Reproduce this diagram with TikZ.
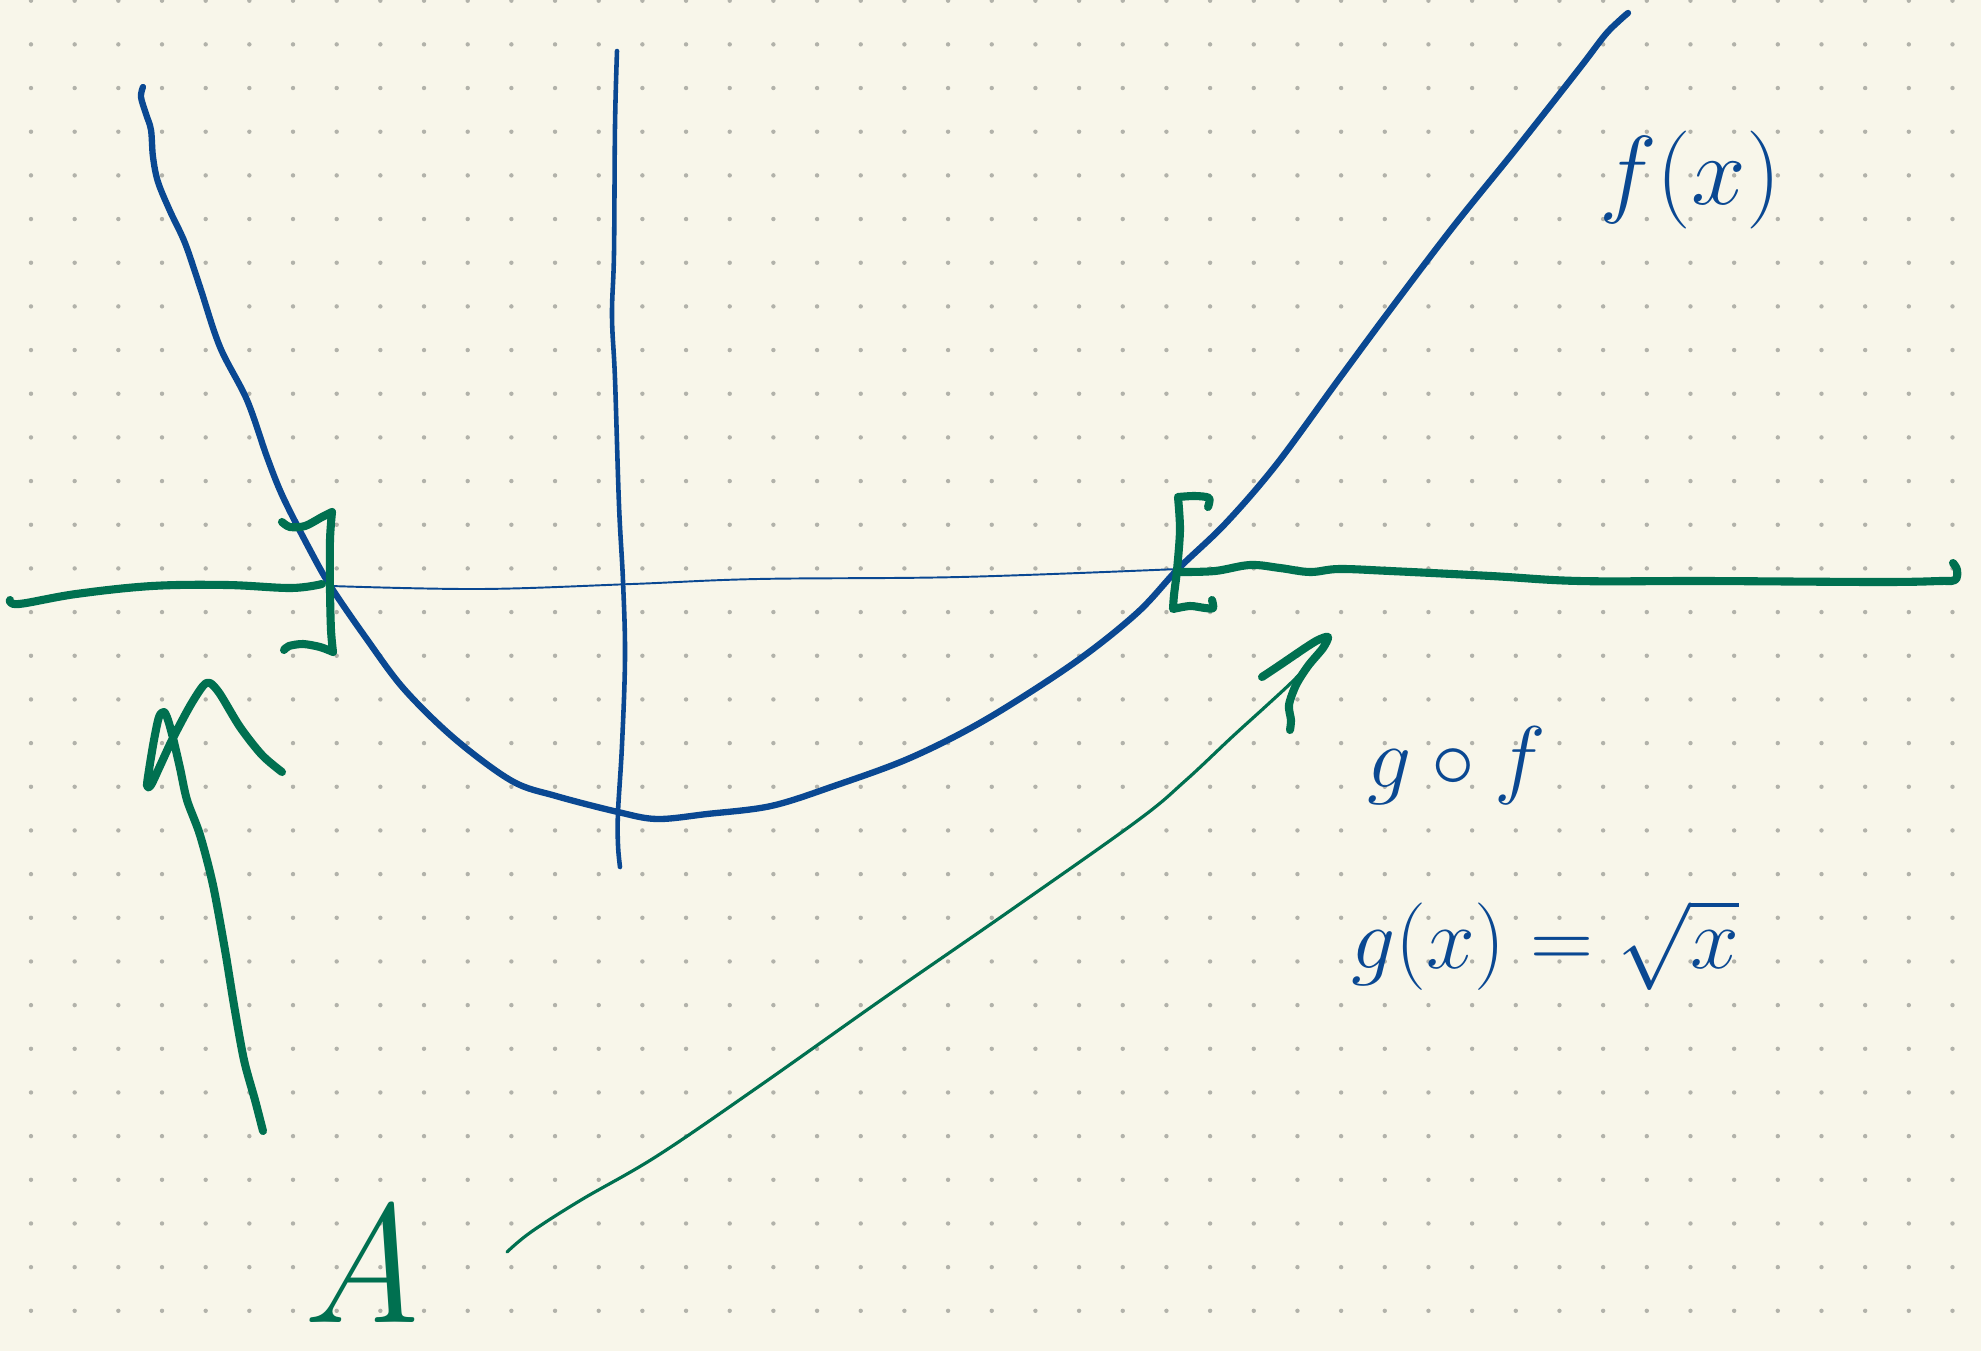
\documentclass[tikz,border=0pt]{standalone}
\usepackage{fontspec}
\definecolor{paper}{RGB}{248,246,234}
\definecolor{ink}{RGB}{10,72,146}
\definecolor{gink}{RGB}{0,112,80}
\definecolor{dotc}{RGB}{178,178,170}
\tikzset{
  bluethick/.style={draw=ink, line width=1.8pt, line cap=round, line join=round},
  bluemid/.style={draw=ink, line width=1.3pt, line cap=round, line join=round},
  bluethin/.style={draw=ink, line width=0.55pt, line cap=round},
  greenthick/.style={draw=gink, line width=2.3pt, line cap=round, line join=round},
  greenthin/.style={draw=gink, line width=0.9pt, line cap=round, line join=round},
  bluelabel/.style={text=ink, inner sep=0pt},
  greenlabel/.style={text=gink, inner sep=0pt},
}
\begin{document}
\begin{tikzpicture}[x=0.01cm, y=-0.01cm]
\fill[paper] (0,0) rectangle (1981,1351);
\useasboundingbox (0,0) rectangle (1981,1351);
% dot grid
\foreach \i in {0,...,44} {
  \foreach \j in {0,...,30} {
    \fill[dotc] ({31+43.67*\i},{0.7+43.67*\j}) circle (2.2);
  }
}
% thin blue horizontal axis
\draw[bluethin] plot[smooth, tension=0.6] coordinates {(331,586) (480,589) (632,584) (758,579) (960,577) (1178,569)};
% blue vertical axis
\draw[bluemid] plot[smooth, tension=0.6] coordinates {(617,51) (615,126) (614,253) (612,316) (615,379) (619,505) (623,581) (625,657) (622,745) (618,812) (618,845) (620,867)};
% blue curve f(x)
\draw[bluethick] plot[smooth, tension=0.55] coordinates {(143,87) (141,97) (146,114) (151,130) (153,157) (158,182) (170,211) (185,243) (200,287) (220,347) (247,400) (267,457) (283,497) (310,550) (331,587) (366,638) (404,689) (455,739) (512,781) (556,796) (618,812) (657,819) (707,814) (771,806) (834,786) (910,758) (985,720) (1074,663) (1137,613) (1178,569) (1225,524) (1276,465) (1339,379) (1390,310) (1453,227) (1516,149) (1579,69) (1605,35) (1620,20) (1628,13)};
% green left axis
\draw[greenthick] plot[smooth, tension=0.6] coordinates {(10,600) (19,604) (76,594) (152,586) (227,585) (291,588) (322,584)};
% green right axis
\draw[greenthick] plot[smooth, tension=0.6] coordinates {(1180,572) (1215,571) (1250,565) (1280,568) (1310,572) (1339,569) (1390,571) (1491,576) (1579,581) (1706,581) (1880,582) (1940,581) (1955,580) (1957,570) (1953,563)};
% left bracket
\draw[greenthick] plot[smooth, tension=0.5] coordinates {(282,522) (290,527) (305,526) (322,517) (332,512)} -- plot[smooth, tension=0.5] coordinates {(332,512) (330,540) (330,590) (331,630) (333,652)} -- plot[smooth, tension=0.5] coordinates {(333,652) (320,647) (303,644) (289,646) (284,650)};
% right bracket
\draw[greenthick] plot[smooth, tension=0.5] coordinates {(1208,507) (1209,498) (1195,496) (1178,497)} -- plot[smooth, tension=0.5] coordinates {(1178,497) (1180,530) (1177,570) (1174,595) (1173,609)} -- plot[smooth, tension=0.5] coordinates {(1173,609) (1190,606) (1205,608) (1213,608) (1212,600)};
% green arrow 1 (left)
\draw[greenthick] plot[smooth, tension=0.5] coordinates {(263,1131) (255,1100) (244,1060) (234,1005) (225,950) (213,885) (200,835) (187,800) (180,768) (173,738) (168,720) (164,712) (159,717) (154,740) (149,770) (147,786) (151,785) (160,766) (173,738) (190,706) (203,686) (210,683) (220,694) (240,727) (262,755) (282,772)};
% green arrow 2 (long thin)
\draw[greenthin] plot[smooth, tension=0.6] coordinates {(507,1252) (531,1232) (581,1200) (657,1156) (758,1087) (884,998) (1011,910) (1137,821) (1185,781) (1232,737) (1265,707) (1292,682) (1306,667)};
\draw[greenthick] plot[smooth, tension=0.5] coordinates {(1262,677) (1280,665) (1305,648) (1318,640) (1328,637) (1323,648) (1308,666) (1296,685) (1289,705) (1291,720) (1290,730)};
% labels
\node[bluelabel, scale=1.12] (fx) at (1690,180) {\fontsize{24.88}{30}\selectfont $f(x)$};
\node[bluelabel] (gof) at (1457,766) {\fontsize{24.88}{30}\selectfont $g\circ f$};
\node[bluelabel] (gx) at (1545,945) {\fontsize{24.88}{30}\selectfont $g(x)=\sqrt{x}$};
\node[greenlabel] (A) at (362,1262) {\fontsize{48}{56}\selectfont \itshape A};
\end{tikzpicture}
\end{document}
